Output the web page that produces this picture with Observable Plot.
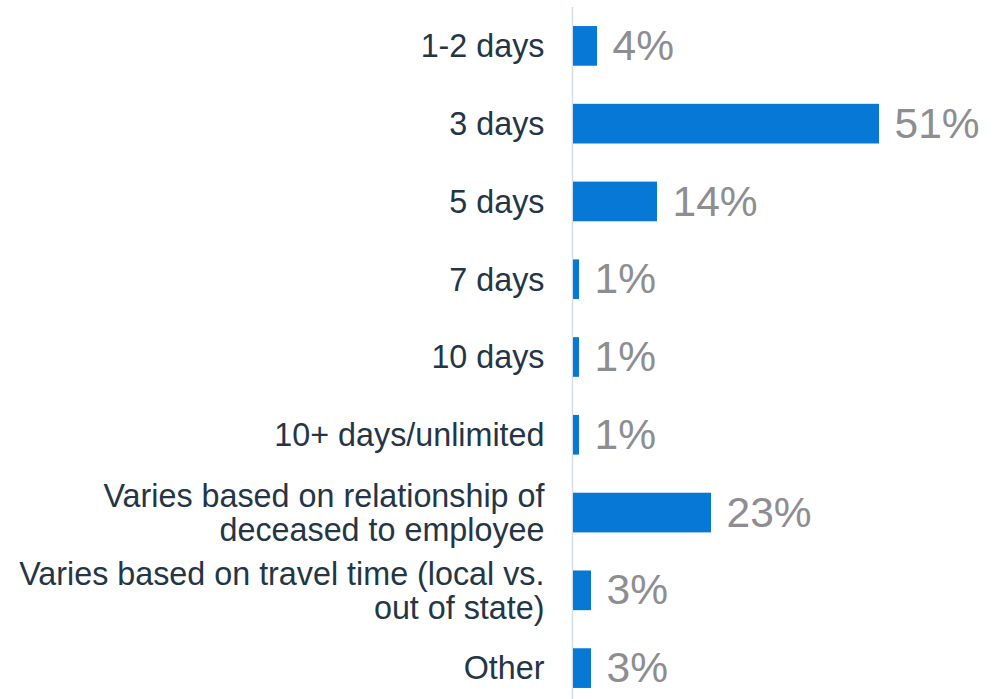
<!DOCTYPE html>
<html>
<head>
<meta charset="utf-8">
<script src="https://cdn.jsdelivr.net/npm/d3@7"></script>
<script src="https://cdn.jsdelivr.net/npm/@observablehq/plot@0.6"></script>
<style>
  html, body { margin: 0; padding: 0; background: #ffffff; }
  svg { display: block; }
</style>
</head>
<body>
<div id="chart"></div>
<script>
const categories = [
  "1-2 days",
  "3 days",
  "5 days",
  "7 days",
  "10 days",
  "10+ days/unlimited",
  "Varies based on relationship of\ndeceased to employee",
  "Varies based on travel time (local vs.\nout of state)",
  "Other"
];
const values = [4, 51, 14, 1, 1, 1, 23, 3, 3];
const valueLabels = ["4%", "51%", "14%", "1%", "1%", "1%", "23%", "3%", "3%"];

const data = categories.map((c, i) => ({category: c, value: values[i], label: valueLabels[i]}));

const chart = Plot.plot({
  width: 998,
  height: 699,
  marginTop: 0,
  marginBottom: 0,
  marginLeft: 0,
  marginRight: 0,
  style: {fontFamily: "Liberation Sans, Arial, sans-serif", background: "#ffffff"},
  x: {domain: [0, 51], range: [573, 879], axis: null},
  y: {domain: categories, range: [7, 707], paddingInner: 0.49, paddingOuter: 0.245, align: 0.5, round: false, axis: null},
  marks: [
    Plot.ruleX([0], {dx: -1, stroke: "#d3dee9", strokeWidth: 1.5, insetTop: 7}),
    Plot.barX(data, {y: "category", x: "value", fill: "#0778d6"}),
    Plot.text(data, {
      y: "category", x: d => 0, text: "category",
      textAnchor: "end", dx: -29, fontSize: 32.3, lineHeight: 1.05,
      fill: "#243646", lineAnchor: "middle"
    }),
    Plot.text(data, {
      y: "category", x: "value", text: "label",
      textAnchor: "start", dx: 15, fontSize: 42.5, fill: "#8d8d92"
    })
  ]
});
document.getElementById("chart").appendChild(chart);
</script>
</body>
</html>
